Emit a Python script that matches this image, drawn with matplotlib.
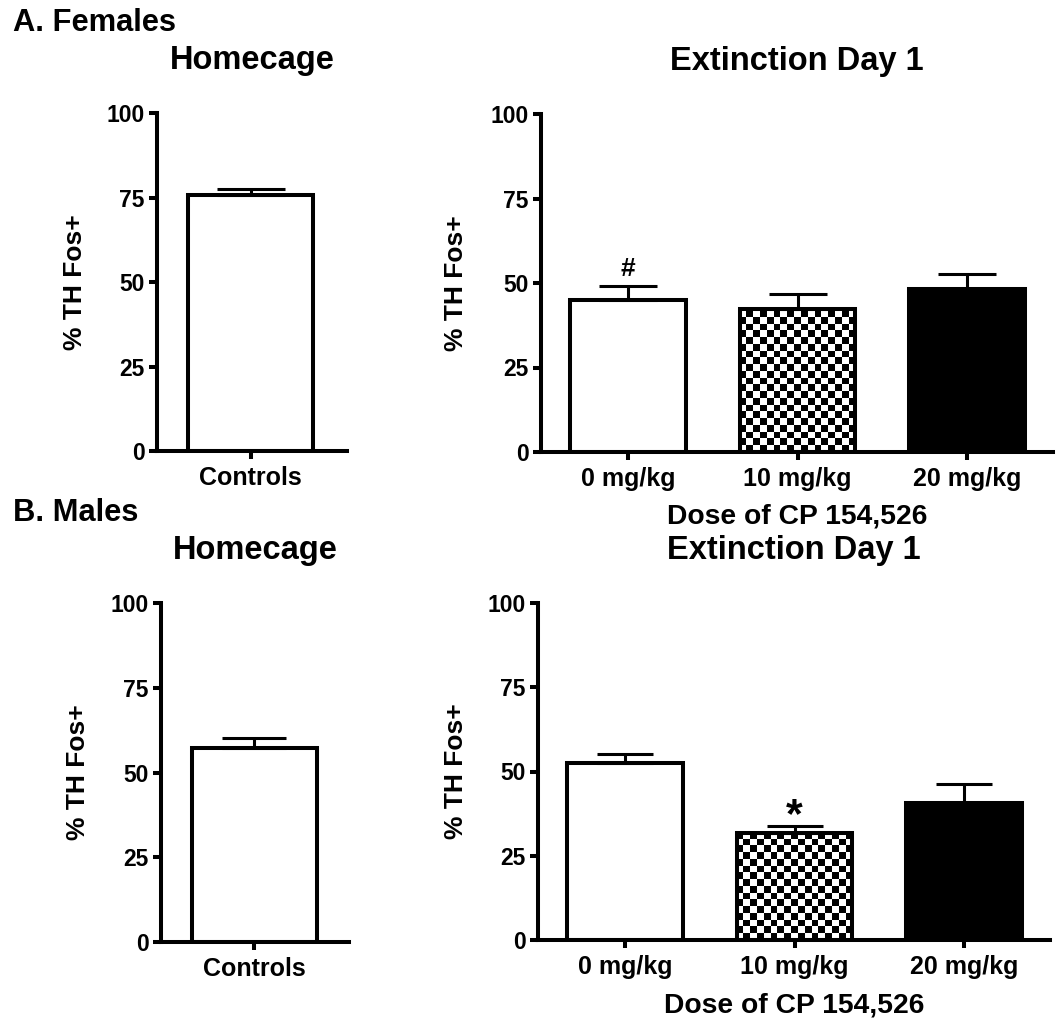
import numpy as np
import matplotlib.pyplot as plt

plt.rcParams['font.family'] = ['Liberation Sans', 'DejaVu Sans']
plt.rcParams['font.weight'] = 'bold'
plt.rcParams['axes.labelweight'] = 'bold'

# data
home_labels = ["Controls"]
dose_labels = ["0 mg/kg", "10 mg/kg", "20 mg/kg"]
y_ticks = [0, 25, 50, 75, 100]

fem_home_mean = [75.7]
fem_home_sem = [1.8]
fem_ext_mean = [45.1, 42.3, 48.2]
fem_ext_sem = [3.9, 4.3, 4.4]
fem_ext_marks = ["#", "", ""]

male_home_mean = [57.1]
male_home_sem = [3.2]
male_ext_mean = [52.4, 31.7, 40.8]
male_ext_sem = [2.7, 2.2, 5.5]
male_ext_marks = ["", "*", ""]

home_fills = ["white"]
dose_fills = ["white", "checker", "black"]

W, H = 1060, 1018
fig = plt.figure(figsize=(W / 100, H / 100), dpi=100)


def make_axes(x0, x1, ytop, ybot):
    return fig.add_axes([x0 / W, 1 - ybot / H, (x1 - x0) / W, (ybot - ytop) / H])


def add_checker(ax, patch, cell_px=6.8):
    pos = ax.get_position()
    nx = int(round(pos.width * W / cell_px))
    ny = int(round(pos.height * H / cell_px))
    grid = np.indices((ny, nx)).sum(axis=0) % 2
    im = ax.imshow(grid, cmap="gray_r", extent=(0, 1, 0, 1), transform=ax.transAxes,
                   aspect="auto", interpolation="nearest", zorder=1)
    im.set_clip_path(patch)


def draw_panel(ax, labels, means, sems, fills, width, capsize, xlim, title,
               ylab_x, xlabel=None, xlab_y=None, marks=None):
    x = np.arange(len(means))
    for i in range(len(means)):
        face = fills[i]
        bar = ax.bar(x[i], means[i], width, color="none" if face == "checker" else face,
                     edgecolor="black", linewidth=2.9, zorder=2)[0]
        if face == "checker":
            add_checker(ax, bar)
    ax.errorbar(x, means, yerr=[np.zeros(len(means)), sems], fmt="none", ecolor="black",
                elinewidth=2.2, capsize=capsize, capthick=2.2, zorder=3)
    if marks:
        for i, m in enumerate(marks):
            if m == "#":
                ax.text(x[i], means[i] + sems[i] + 3, m, ha="center", va="baseline", fontsize=19)
            elif m == "*":
                ax.text(x[i], means[i] + sems[i] - 0.5, m, ha="center", va="baseline", fontsize=31)

    ax.set_xlim(xlim)
    ax.set_ylim(0, 100)
    ax.set_yticks(y_ticks)
    ax.set_xticks(x)
    ax.set_xticklabels(labels)
    for s in ["top", "right"]:
        ax.spines[s].set_visible(False)
    for s in ["left", "bottom"]:
        ax.spines[s].set_linewidth(2.9)
    ax.tick_params(axis="both", direction="out", length=6, width=2.9)
    ax.tick_params(axis="y", pad=3, labelsize=16.5)
    ax.tick_params(axis="x", pad=5, labelsize=18)

    ax.set_ylabel("% TH Fos+", fontsize=19, va="center")
    ax.yaxis.set_label_coords(ylab_x, 0.5)
    if xlabel:
        ax.set_xlabel(xlabel, fontsize=20.3, va="center")
        ax.xaxis.set_label_coords(0.5, xlab_y)
    ax.text(0.5, 1.155, title, transform=ax.transAxes, ha="center", va="center", fontsize=23.5)


# A. Females
ax1 = make_axes(157, 347, 113, 451)
draw_panel(ax1, home_labels, fem_home_mean, fem_home_sem, home_fills, 1.0, 24.5,
           (-0.75, 0.77), "Homecage", -0.43)

ax2 = make_axes(541, 1053, 114, 452)
draw_panel(ax2, dose_labels, fem_ext_mean, fem_ext_sem, dose_fills, 0.684, 21,
           (-0.513, 2.507), "Extinction Day 1", -0.166,
           "Dose of CP 154,526", -0.192, fem_ext_marks)

# B. Males
ax3 = make_axes(161, 349, 603, 942)
draw_panel(ax3, home_labels, male_home_mean, male_home_sem, home_fills, 1.0, 23,
           (-0.75, 0.76), "Homecage", -0.44)

ax4 = make_axes(538, 1050, 603, 940)
draw_panel(ax4, dose_labels, male_ext_mean, male_ext_sem, dose_fills, 0.684, 20,
           (-0.513, 2.507), "Extinction Day 1", -0.16,
           "Dose of CP 154,526", -0.193, male_ext_marks)

fig.text(13 / W, 1 - 23 / H, "A. Females", ha="left", va="center", fontsize=22.2)
fig.text(13 / W, 1 - 513 / H, "B. Males", ha="left", va="center", fontsize=22.2)

fig.savefig("out.png", dpi=100)
